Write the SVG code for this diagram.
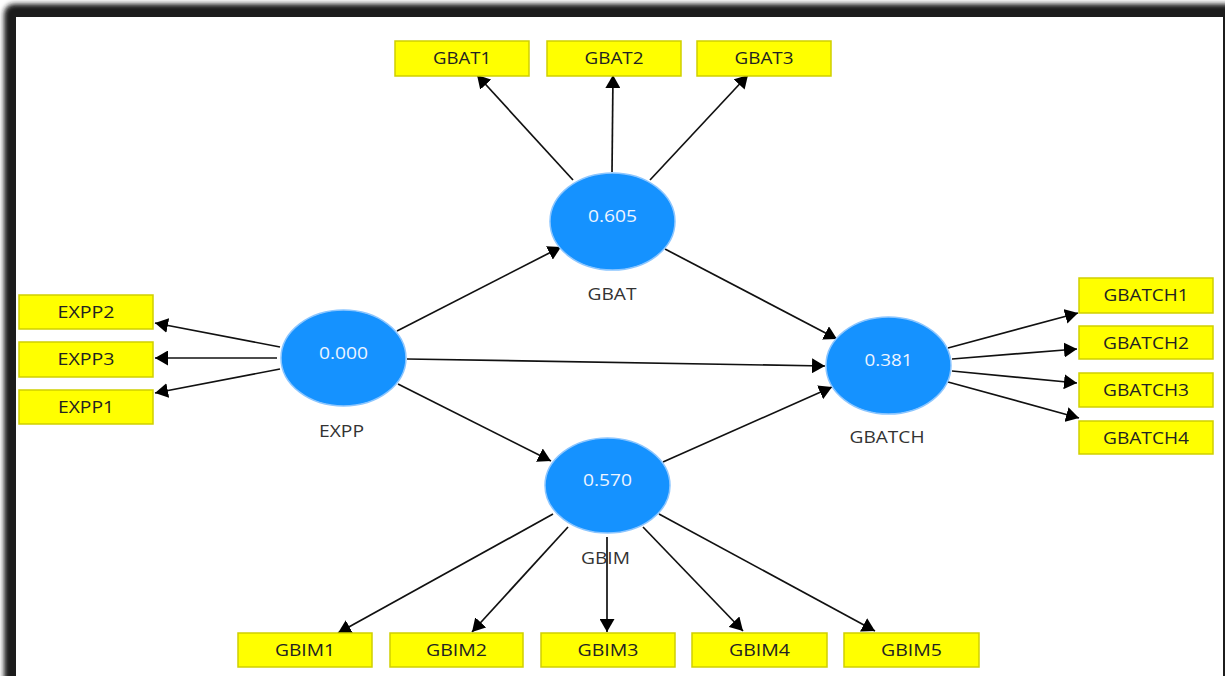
<svg xmlns="http://www.w3.org/2000/svg" width="1225" height="676" viewBox="0 0 1225 676">
<defs>
<style>
.box rect{fill:#ffff00;stroke:#cfcf00;stroke-width:1.5}
.box text{font-family:"Open Sans","Noto Sans",sans-serif;font-size:17px;fill:#222;text-anchor:middle}
.lv ellipse{fill:#1592ff;stroke:#8cc6ff;stroke-width:1.5}
.lv text.v{font-family:"Open Sans","Noto Sans",sans-serif;font-size:17px;fill:#eef5ff;text-anchor:middle}
.lv text.n{font-family:"Open Sans","Noto Sans",sans-serif;font-size:17px;fill:#333;text-anchor:middle}
#edges line{stroke:#111;stroke-width:1.7;marker-end:url(#ah)}
</style>
<marker id="ah" markerUnits="userSpaceOnUse" markerWidth="13" markerHeight="15" refX="13" refY="7.5" orient="auto">
<path d="M0,0 L13,7.5 L0,15 z" fill="#000"/>
</marker>
<filter id="blur" x="-5%" y="-5%" width="110%" height="110%"><feGaussianBlur stdDeviation="2.5"/></filter>
</defs>
<rect width="1225" height="676" fill="#fff"/>
<rect x="4" y="4" width="1270" height="730" rx="10" fill="#1a1a1a" filter="url(#blur)"/>
<rect x="16" y="17" width="1207" height="700" fill="#fff"/>

<g id="edges">
<line x1="280" y1="347" x2="155" y2="323"/>
<line x1="277" y1="358" x2="155" y2="358"/>
<line x1="280" y1="369" x2="155" y2="393"/>
<line x1="573" y1="180" x2="477" y2="75"/>
<line x1="612" y1="172" x2="613" y2="75"/>
<line x1="650" y1="180" x2="748" y2="75"/>
<line x1="397" y1="331" x2="561" y2="247"/>
<line x1="407" y1="359" x2="825" y2="366"/>
<line x1="398" y1="384" x2="551" y2="461"/>
<line x1="665" y1="249" x2="837" y2="339"/>
<line x1="663" y1="462" x2="832" y2="387"/>
<line x1="948" y1="348" x2="1078" y2="313"/>
<line x1="952" y1="359" x2="1077" y2="349"/>
<line x1="952" y1="371" x2="1077" y2="383"/>
<line x1="948" y1="382" x2="1079" y2="418"/>
<line x1="553" y1="514" x2="338" y2="633"/>
<line x1="568" y1="527" x2="472" y2="632"/>
<line x1="607" y1="537" x2="607" y2="632"/>
<line x1="643" y1="527" x2="743" y2="631"/>
<line x1="659" y1="514" x2="875" y2="631"/>
</g>

<g id="EXPP" class="lv"><ellipse cx="343.5" cy="358" rx="62.5" ry="48"/><text class="v" x="343.5" y="359" textLength="49" lengthAdjust="spacingAndGlyphs">0.000</text><text class="n" x="341.5" y="437" textLength="45" lengthAdjust="spacingAndGlyphs">EXPP</text></g>
<g id="GBAT" class="lv"><ellipse cx="612.5" cy="221.5" rx="62.5" ry="48.5"/><text class="v" x="612.5" y="222" textLength="49" lengthAdjust="spacingAndGlyphs">0.605</text><text class="n" x="612" y="300" textLength="49" lengthAdjust="spacingAndGlyphs">GBAT</text></g>
<g id="GBATCH" class="lv"><ellipse cx="888.5" cy="365.5" rx="62.5" ry="48.5"/><text class="v" x="888.5" y="366" textLength="48" lengthAdjust="spacingAndGlyphs">0.381</text><text class="n" x="887" y="443" textLength="75" lengthAdjust="spacingAndGlyphs">GBATCH</text></g>
<g id="GBIM" class="lv"><ellipse cx="607.5" cy="485.5" rx="62.5" ry="47.5"/><text class="v" x="607.5" y="486" textLength="49" lengthAdjust="spacingAndGlyphs">0.570</text><text class="n" x="605.5" y="564" textLength="49" lengthAdjust="spacingAndGlyphs">GBIM</text></g>

<g id="EXPP2" class="box"><rect x="19" y="295" width="134" height="34"/><text x="86" y="318" textLength="57" lengthAdjust="spacingAndGlyphs">EXPP2</text></g>
<g id="EXPP3" class="box"><rect x="19" y="342" width="134" height="35"/><text x="86" y="365" textLength="57" lengthAdjust="spacingAndGlyphs">EXPP3</text></g>
<g id="EXPP1" class="box"><rect x="19" y="390" width="134" height="34"/><text x="86" y="413" textLength="56" lengthAdjust="spacingAndGlyphs">EXPP1</text></g>

<g id="GBAT1" class="box"><rect x="395" y="41" width="134" height="35"/><text x="462" y="64" textLength="58" lengthAdjust="spacingAndGlyphs">GBAT1</text></g>
<g id="GBAT2" class="box"><rect x="547" y="41" width="134" height="35"/><text x="614" y="64" textLength="59" lengthAdjust="spacingAndGlyphs">GBAT2</text></g>
<g id="GBAT3" class="box"><rect x="697" y="41" width="134" height="35"/><text x="764" y="64" textLength="59" lengthAdjust="spacingAndGlyphs">GBAT3</text></g>

<g id="GBATCH1" class="box"><rect x="1079" y="278" width="134" height="35"/><text x="1146" y="301" textLength="85" lengthAdjust="spacingAndGlyphs">GBATCH1</text></g>
<g id="GBATCH2" class="box"><rect x="1079" y="326" width="134" height="33"/><text x="1146" y="349" textLength="86" lengthAdjust="spacingAndGlyphs">GBATCH2</text></g>
<g id="GBATCH3" class="box"><rect x="1079" y="373" width="134" height="34"/><text x="1146" y="396" textLength="86" lengthAdjust="spacingAndGlyphs">GBATCH3</text></g>
<g id="GBATCH4" class="box"><rect x="1079" y="421" width="134" height="33"/><text x="1146" y="444" textLength="86" lengthAdjust="spacingAndGlyphs">GBATCH4</text></g>

<g id="GBIM1" class="box"><rect x="238" y="633" width="134" height="34"/><text x="305" y="656" textLength="60" lengthAdjust="spacingAndGlyphs">GBIM1</text></g>
<g id="GBIM2" class="box"><rect x="390" y="633" width="133" height="34"/><text x="456.5" y="656" textLength="61" lengthAdjust="spacingAndGlyphs">GBIM2</text></g>
<g id="GBIM3" class="box"><rect x="541" y="633" width="134" height="34"/><text x="608" y="656" textLength="61" lengthAdjust="spacingAndGlyphs">GBIM3</text></g>
<g id="GBIM4" class="box"><rect x="692" y="633" width="135" height="34"/><text x="759.5" y="656" textLength="61" lengthAdjust="spacingAndGlyphs">GBIM4</text></g>
<g id="GBIM5" class="box"><rect x="844" y="633" width="135" height="34"/><text x="911.5" y="656" textLength="61" lengthAdjust="spacingAndGlyphs">GBIM5</text></g>
</svg>
